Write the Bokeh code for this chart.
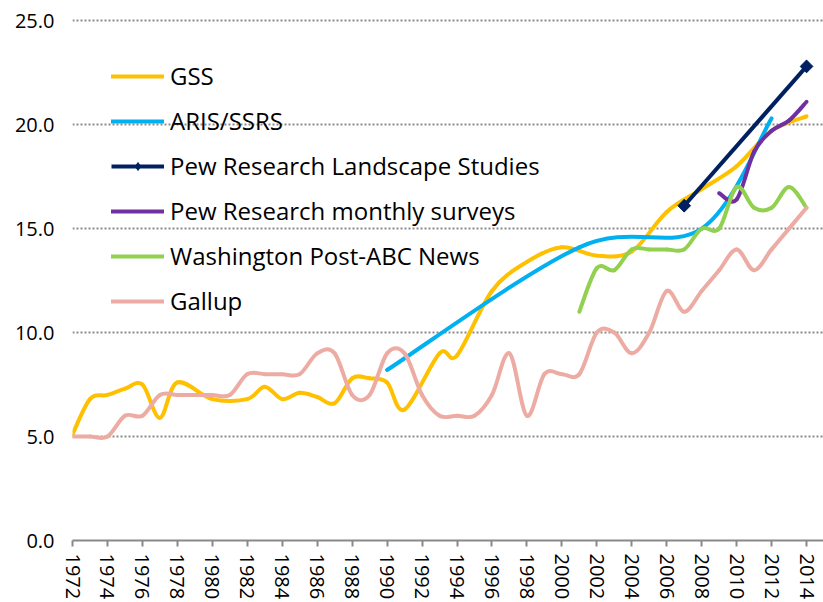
import numpy as np
from bokeh.plotting import figure
from bokeh.models import Range1d, FixedTicker, NumeralTickFormatter, Legend, LegendItem
from bokeh.embed import file_html
from bokeh.resources import INLINE

# ---------------- data ----------------
x_tick_years = list(range(1972, 2015, 2))
y_tick_values = [0, 5, 10, 15, 20, 25]

gss_years = [1972, 1973, 1974, 1975, 1976, 1977, 1978, 1980, 1982, 1983, 1984, 1985,
             1986, 1987, 1988, 1989, 1990, 1991, 1993, 1994, 1996, 1998, 2000, 2002,
             2004, 2006, 2008, 2010, 2012, 2014]
gss_values = [5.1, 6.8, 7.0, 7.3, 7.5, 5.9, 7.6, 6.8, 6.8, 7.4, 6.8, 7.1,
              6.9, 6.6, 7.8, 7.8, 7.6, 6.3, 9.0, 8.9, 12.0, 13.4, 14.1, 13.7,
              13.9, 15.8, 16.9, 18.0, 19.7, 20.4]

aris_years = [1990, 2001, 2008, 2012]
aris_values = [8.2, 14.1, 15.0, 20.3]

pew_land_years = [2007, 2014]
pew_land_values = [16.1, 22.8]

pew_month_years = [2009, 2010, 2011, 2012, 2013, 2014]
pew_month_values = [16.7, 16.4, 18.7, 19.7, 20.2, 21.1]

wapo_years = list(range(2001, 2015))
wapo_values = [11.0, 13.1, 13.0, 14.0, 14.0, 14.0, 14.0, 15.0, 15.0, 17.0, 16.0, 16.0, 17.0, 16.0]

gallup_years = list(range(1972, 2015))
gallup_values = [5, 5, 5, 6, 6, 7, 7, 7, 7, 7, 8, 8, 8, 8, 9, 9, 7, 7, 9, 9, 7, 6,
                 6, 6, 7, 9, 6, 8, 8, 8, 10, 10, 9, 10, 12, 11, 12, 13, 14, 13, 14, 15, 16]

series_names = ["GSS", "ARIS/SSRS", "Pew Research Landscape Studies",
                "Pew Research monthly surveys", "Washington Post-ABC News", "Gallup"]
series_colors = ["#FFC000", "#00B0F0", "#002060", "#7030A0", "#92D050", "#EDACA3"]

FONT = "Open Sans"


def smooth_segments(xs, ys):
    """Excel-style smoothed line: cubic Bezier segments (Catmull-Rom control points)."""
    xs = np.asarray(xs, float)
    ys = np.asarray(ys, float)
    n = len(xs)
    px = np.concatenate([[xs[0]], xs, [xs[-1]]])
    py = np.concatenate([[ys[0]], ys, [ys[-1]]])
    d = dict(x0=[], y0=[], x1=[], y1=[], cx0=[], cy0=[], cx1=[], cy1=[])
    for i in range(n - 1):
        j = i + 1
        d["x0"].append(px[j]); d["y0"].append(py[j])
        d["x1"].append(px[j + 1]); d["y1"].append(py[j + 1])
        d["cx0"].append(px[j] + (px[j + 1] - px[j - 1]) / 6.0)
        d["cy0"].append(py[j] + (py[j + 1] - py[j - 1]) / 6.0)
        d["cx1"].append(px[j + 1] - (px[j + 2] - px[j]) / 6.0)
        d["cy1"].append(py[j + 1] - (py[j + 2] - py[j]) / 6.0)
    return d


p = figure(width=823, height=602, output_backend="svg", toolbar_location=None,
           x_range=Range1d(1972, 2014.97), y_range=Range1d(0, 25.2),
           min_border_left=72, min_border_right=0, min_border_top=16, min_border_bottom=62)
p.outline_line_color = None
p.background_fill_color = "white"
p.border_fill_color = "white"

# grid
p.xgrid.grid_line_color = None
p.ygrid.ticker = FixedTicker(ticks=y_tick_values)
p.ygrid.grid_line_color = "#8A8A8A"
p.ygrid.grid_line_width = 2
p.ygrid.grid_line_dash = "2 2"

# x axis
p.xaxis.ticker = FixedTicker(ticks=x_tick_years)
p.xaxis.major_label_orientation = "vertical"
p.xaxis.axis_line_color = "#898989"
p.xaxis.axis_line_width = 2
p.xaxis.major_tick_line_color = "#898989"
p.xaxis.major_tick_line_width = 2
p.xaxis.major_tick_out = 6
p.xaxis.major_tick_in = 0
p.xaxis.minor_tick_line_color = None
p.xaxis.major_label_standoff = 7
p.xaxis.major_label_text_font = FONT
p.xaxis.major_label_text_font_size = "20px"
p.xaxis.major_label_text_color = "#000000"

# y axis
p.yaxis.ticker = FixedTicker(ticks=y_tick_values)
p.yaxis.formatter = NumeralTickFormatter(format="0.0")
p.yaxis.axis_line_color = None
p.yaxis.major_tick_line_color = None
p.yaxis.minor_tick_line_color = None
p.yaxis.major_tick_out = 0
p.yaxis.major_label_standoff = 18
p.yaxis.major_label_text_font = FONT
p.yaxis.major_label_text_font_size = "20px"
p.yaxis.major_label_text_color = "#000000"

LW = 4
items = []

# GSS
r = p.bezier(line_color=series_colors[0], line_width=LW, line_cap="round",
             **smooth_segments(gss_years, gss_values))
items.append(LegendItem(label=series_names[0], renderers=[r]))

# ARIS/SSRS
r = p.bezier(line_color=series_colors[1], line_width=LW, line_cap="round",
             **smooth_segments(aris_years, aris_values))
items.append(LegendItem(label=series_names[1], renderers=[r]))

# Pew Landscape (straight, with diamonds)
rl = p.line(pew_land_years, pew_land_values, line_color=series_colors[2], line_width=LW)
rd = p.scatter(pew_land_years, pew_land_values, marker="diamond", size=12,
               fill_color=series_colors[2], line_color=series_colors[2])
rm = p.scatter(pew_land_years, pew_land_values, marker="square", size=9, angle=np.pi / 4,
               fill_color=series_colors[2], line_color=series_colors[2])
items.append(LegendItem(label=series_names[2], renderers=[rl, rd]))

# Pew monthly
r = p.bezier(line_color=series_colors[3], line_width=LW, line_cap="round",
             **smooth_segments(pew_month_years, pew_month_values))
items.append(LegendItem(label=series_names[3], renderers=[r]))

# Washington Post-ABC
r = p.bezier(line_color=series_colors[4], line_width=LW, line_cap="round",
             **smooth_segments(wapo_years, wapo_values))
items.append(LegendItem(label=series_names[4], renderers=[r]))

# Gallup
r = p.bezier(line_color=series_colors[5], line_width=LW, line_cap="round",
             **smooth_segments(gallup_years, gallup_values))
items.append(LegendItem(label=series_names[5], renderers=[r]))

legend = Legend(items=items, location=(39, 223), orientation="vertical",
                border_line_color=None, background_fill_alpha=0,
                padding=0, margin=0, spacing=12,
                glyph_width=53, glyph_height=20, label_height=20, label_standoff=6,
                label_text_font=FONT, label_text_font_size="24px", label_text_color="#000000")
p.add_layout(legend, "center")

open("out.html", "w").write(file_html(p, INLINE))
